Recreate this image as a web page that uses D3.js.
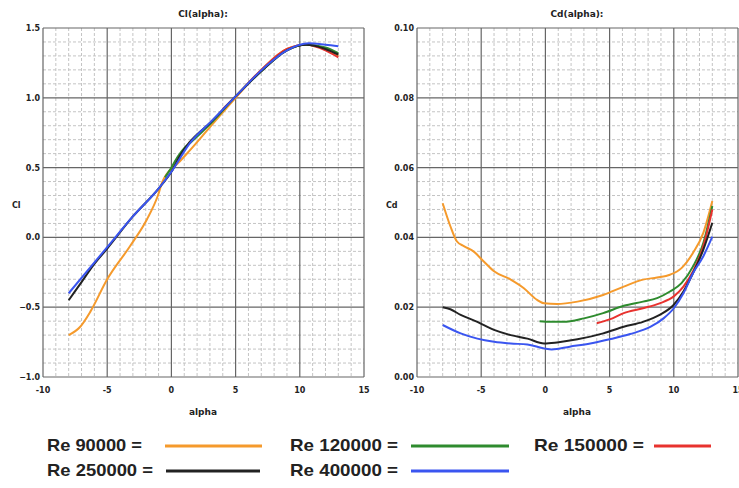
<!DOCTYPE html>
<html>
<head>
<meta charset="utf-8" />
<script src="https://d3js.org/d3.v7.min.js"></script>
<style>
  body { margin: 0; background: #fff; }
  svg { display: block; }
  .tick-label { font: bold 8px "DejaVu Sans", sans-serif; fill: #222; }
  .title { font: bold 9px "DejaVu Sans", sans-serif; fill: #222; text-anchor: middle; }
  .legend { font: bold 17px "Liberation Sans", sans-serif; fill: #222; }
  .line { fill: none; stroke-width: 2px; stroke-linejoin: round; }
</style>
</head>
<body>
<svg width="739" height="488"></svg>
<script>
  // series names and colours
  const reNames = ["Re 90000 =", "Re 120000 =", "Re 150000 =", "Re 250000 =", "Re 400000 ="];
  const reColors = ["#f59a2c", "#2e8b2e", "#e8322e", "#222222", "#3a55f0"];

  // Cl(alpha) per Re: [alpha, Cl]
  const cl90 = [[-8,-0.70],[-7.1,-0.64],[-6.3,-0.53],[-5,-0.30],[-3.2,-0.06],[-1.9,0.13],[-1.05,0.30],
    [-0.7,0.40],[-0.4,0.45],[0.5,0.53],[1.4,0.62],[3,0.79],[5,1.00],[7,1.20],[9,1.35],[10.5,1.38],[12,1.35],[13,1.30]];
  const cl120 = [[-0.5,0.43],[0,0.50],[0.5,0.58],[1,0.64],[1.5,0.68],[3,0.81],[5,1.01],[7,1.19],[9,1.34],
    [10.5,1.38],[12,1.36],[13,1.32]];
  const cl150 = [[4,0.92],[5,1.01],[7,1.20],[9,1.35],[10.5,1.38],[12,1.34],[13,1.29]];
  const cl250 = [[-8,-0.45],[-7,-0.32],[-6,-0.19],[-5,-0.08],[-3,0.15],[-1,0.35],[0,0.47],[0.7,0.59],[1.4,0.68],
    [3,0.82],[5,1.01],[7,1.19],[9,1.34],[10.5,1.38],[12,1.35],[13,1.31]];
  const cl400 = [[-8,-0.40],[-5,-0.07],[-3,0.15],[-1,0.35],[0,0.47],[1.4,0.67],[3.2,0.84],[5,1.01],[7.4,1.23],
    [9,1.34],[10.7,1.39],[12,1.38],[13,1.37]];

  // Cd(alpha) per Re: [alpha, Cd]
  const cd90 = [[-8,0.0498],[-7.4,0.0432],[-6.9,0.0389],[-6.35,0.0375],[-5.6,0.036],[-4.8,0.0331],[-4,0.0303],
    [-2.7,0.0279],[-1.7,0.0255],[-0.65,0.0221],[-0.1,0.0211],[0.9,0.0209],[2.5,0.0216],[4.5,0.0235],[6.1,0.0259],
    [7.6,0.0279],[8.7,0.0285],[9.7,0.0293],[10.6,0.0312],[11.5,0.0356],[12.3,0.0413],[13,0.0504]];
  const cd120 = [[-0.45,0.0160],[0.4,0.0158],[1.4,0.0158],[3,0.0168],[4.5,0.0183],[6.1,0.0204],[7.6,0.0216],
    [8.7,0.0226],[9.7,0.0245],[10.6,0.0269],[11.5,0.0317],[12.3,0.0384],[13,0.049]];
  const cd150 = [[4,0.0154],[5,0.0165],[6.1,0.0183],[7.6,0.0197],[8.9,0.0211],[10,0.0231],[10.75,0.0259],
    [11.5,0.0303],[12.3,0.0375],[13,0.048]];
  const cd250 = [[-8,0.0200],[-7.4,0.0194],[-6.6,0.0178],[-5.3,0.0158],[-4,0.0135],[-2.7,0.012],[-1.4,0.011],
    [-0.1,0.0096],[0.9,0.0099],[2.5,0.0108],[4.5,0.0125],[6.1,0.0144],[7.6,0.0158],[8.9,0.0178],[10,0.0207],
    [10.75,0.0245],[11.5,0.0298],[12.3,0.0365],[13,0.0442]];
  const cd400 = [[-8,0.0149],[-6.6,0.0125],[-5.3,0.011],[-4,0.0101],[-2.7,0.0096],[-1.4,0.0093],[-0.1,0.0082],
    [0.5,0.0079],[1.9,0.0087],[3.5,0.0096],[5,0.0108],[6.6,0.0123],[8.2,0.0144],[9.2,0.0168],[10,0.0197],
    [10.75,0.024],[11.5,0.0298],[12.3,0.0346],[13,0.0402]];

  const xTicks = [-10, -5, 0, 5, 10, 15];
  const clTicks = [-1.0, -0.5, 0.0, 0.5, 1.0, 1.5];
  const cdTicks = [0.00, 0.02, 0.04, 0.06, 0.08, 0.10];

  const svg = d3.select("svg");

  function drawPanel(opt) {
    const x = d3.scaleLinear().domain([-10, 15]).range([opt.left, opt.left + 321]);
    const y = d3.scaleLinear().domain(opt.yDomain).range([377, 28]);
    const g = svg.append("g");

    // minor grid
    const xMinor = d3.range(-10, 15.01, 1).filter(v => v % 5 !== 0);
    const yStep = (opt.yDomain[1] - opt.yDomain[0]) / 25;
    const yMinor = d3.range(0, 26).map(i => opt.yDomain[0] + i * yStep).filter((v, i) => i % 5 !== 0);
    g.selectAll(".vminor").data(xMinor).join("line")
      .attr("x1", d => x(d)).attr("x2", d => x(d)).attr("y1", 28).attr("y2", 377)
      .attr("stroke", "#c4c4c4").attr("stroke-dasharray", "3,2").attr("stroke-width", 1);
    g.selectAll(".hminor").data(yMinor).join("line")
      .attr("y1", d => y(d)).attr("y2", d => y(d)).attr("x1", x(-10)).attr("x2", x(15))
      .attr("stroke", "#c4c4c4").attr("stroke-dasharray", "3,2").attr("stroke-width", 1);

    // major grid
    g.selectAll(".vmajor").data(xTicks).join("line")
      .attr("x1", d => x(d)).attr("x2", d => x(d)).attr("y1", 28).attr("y2", 377)
      .attr("stroke", "#666").attr("stroke-width", 1.2);
    g.selectAll(".hmajor").data(opt.yTicks).join("line")
      .attr("y1", d => y(d)).attr("y2", d => y(d)).attr("x1", x(-10)).attr("x2", x(15))
      .attr("stroke", "#666").attr("stroke-width", 1.2);

    // tick labels
    g.selectAll(".xt").data(xTicks).join("text").attr("class", "tick-label")
      .attr("x", d => x(d)).attr("y", 393).attr("text-anchor", "middle").text(d => d);
    g.selectAll(".yt").data(opt.yTicks).join("text").attr("class", "tick-label")
      .attr("x", opt.left - 3).attr("y", d => y(d) + 3).attr("text-anchor", "end")
      .text(d => d3.format(opt.fmt)(d));

    g.append("text").attr("class", "title").attr("x", opt.left + 160).attr("y", 17).text(opt.title);
    g.append("text").attr("class", "title").attr("x", opt.left + 160).attr("y", 415).text("alpha");
    g.append("text").attr("class", "tick-label").attr("x", opt.yLabelX).attr("y", 208).text(opt.yLabel);

    const line = d3.line().x(d => x(d[0])).y(d => y(d[1])).curve(d3.curveMonotoneX);
    opt.series.forEach((s, i) => {
      g.append("path").attr("class", "line").attr("d", line(s)).attr("stroke", reColors[opt.order[i]]);
    });
  }

  drawPanel({
    left: 43, yDomain: [-1, 1.5], yTicks: clTicks, fmt: ".1f", title: "Cl(alpha):",
    yLabel: "Cl", yLabelX: 12,
    series: [cl90, cl150, cl120, cl250, cl400], order: [0, 2, 1, 3, 4]
  });
  drawPanel({
    left: 417, yDomain: [0, 0.1], yTicks: cdTicks, fmt: ".2f", title: "Cd(alpha):",
    yLabelX: 386, yLabel: "Cd",
    series: [cd90, cd120, cd150, cd250, cd400], order: [0, 1, 2, 3, 4]
  });

  // legend: [text x, baseline y, text width, line x1, line x2]
  const legendPos = [[47, 451, 95, 165, 262], [290, 451, 108, 411, 509], [534, 451, 110, 654, 711],
                     [47, 476, 106, 166, 260], [290, 476, 108, 411, 509]];
  const lg = svg.append("g");
  reNames.forEach((name, i) => {
    const p = legendPos[i];
    lg.append("text").attr("class", "legend").attr("x", p[0]).attr("y", p[1])
      .attr("textLength", p[2]).attr("lengthAdjust", "spacingAndGlyphs").text(name);
    lg.append("line").attr("x1", p[3]).attr("x2", p[4]).attr("y1", p[1] - 5).attr("y2", p[1] - 5)
      .attr("stroke", reColors[i]).attr("stroke-width", 3);
  });
</script>
</body>
</html>
